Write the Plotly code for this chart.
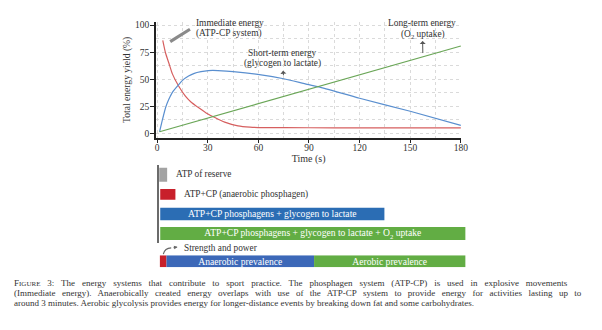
import plotly.graph_objects as go

W, H = 602, 330
FONT = "Liberation Serif"

# ---------------- data ----------------
t_imm = [3.3, 5, 6.9, 9, 12.7, 16.6, 20, 24.4, 29, 34.2, 40, 47.9, 55, 60, 90, 120, 150, 180]
y_imm = [86, 74, 65, 55, 43.8, 34.6, 29, 23.9, 19, 14.7, 10.5, 7, 5.8, 5.5, 5.3, 5.2, 5.2, 5.2]

t_short = [1.4, 3, 5, 6.9, 9, 12.7, 15, 18.6, 22, 26, 30.3, 33, 36, 45, 59.6, 75, 88.9, 95.8, 120, 150, 180]
y_short = [1.6, 12, 24, 31.5, 38, 45, 49, 53, 55.5, 57, 58, 58.2, 58, 57, 54.5, 50.5, 45.3, 43, 32.5, 20.5, 7.5]

t_long = [1.4, 180]
y_long = [1.6, 80.7]

x_ticks = [0, 30, 60, 90, 120, 150, 180]
y_ticks = [0, 25, 50, 75, 100]

bar_rows = ["ATP of reserve", "ATP+CP (anaerobic phosphagen)",
            "ATP+CP phosphagens + glycogen to lactate",
            "ATP+CP phosphagens + glycogen to lactate + O<sub>2</sub> uptake"]
bar_start = [1.2, 1.8, 1.8, 1.8]
bar_end = [5.9, 10.8, 134.7, 182.7]
bar_colors = ["#a3a3a3", "#c8202b", "#2b6db4", "#62ad44"]
bar_inside = [False, False, True, True]

prev_labels = ["", "Anaerobic prevalence", "Aerobic prevalence"]
prev_start = [1.6, 5.5, 93.0]
prev_end = [5.5, 93.0, 182.7]
prev_colors = ["#c8202b", "#3c68b8", "#62ad44"]

# ---------------- helpers (pixel -> paper) ----------------
def px(x):
    return x / W

def py(y):
    return 1 - y / H

fig = go.Figure()

# main curves
fig.add_trace(go.Scatter(x=t_imm, y=y_imm, mode="lines", line=dict(color="#d65f5f", width=1.2, shape="spline", smoothing=0.6),
                         xaxis="x", yaxis="y", hoverinfo="skip"))
fig.add_trace(go.Scatter(x=t_short, y=y_short, mode="lines", line=dict(color="#5a8fcf", width=1.2, shape="spline", smoothing=0.6),
                         xaxis="x", yaxis="y", hoverinfo="skip"))
fig.add_trace(go.Scatter(x=t_long, y=y_long, mode="lines", line=dict(color="#6aa657", width=1.2),
                         xaxis="x", yaxis="y", hoverinfo="skip"))

# bar rows (labelled inside / labelled outside via annotations)
widths = [0.72, 0.56, 0.64, 0.66]
BAR_TXT = dict(family=FONT, size=9.6, color="white")
for flag in (False, True):
    idx = [i for i in range(len(bar_rows)) if bar_inside[i] == flag]
    kw = dict(text=[bar_rows[i] for i in idx], textposition="inside", insidetextanchor="middle",
              constraintext="none", textfont=BAR_TXT, insidetextfont=BAR_TXT) if flag else dict(textposition="none")
    fig.add_trace(go.Bar(
        y=[bar_rows[i] for i in idx], x=[bar_end[i] - bar_start[i] for i in idx],
        base=[bar_start[i] for i in idx], orientation="h",
        marker=dict(color=[bar_colors[i] for i in idx], line=dict(width=0)),
        width=[widths[i] for i in idx], xaxis="x2", yaxis="y2", hoverinfo="skip", **kw))

# prevalence bar
for lab, s, e, c in zip(prev_labels, prev_start, prev_end, prev_colors):
    kw = dict(text=[lab], textposition="inside", insidetextanchor="middle", constraintext="none",
              textfont=BAR_TXT, insidetextfont=BAR_TXT) if lab else dict(textposition="none")
    fig.add_trace(go.Bar(
        y=["prevalence"], x=[e - s], base=[s], orientation="h",
        marker=dict(color=c, line=dict(width=0)), width=1,
        xaxis="x3", yaxis="y3", hoverinfo="skip", **kw))

# ---------------- axes ----------------
x0_px, x180_px = 158.3, 466.0
k = (x180_px - x0_px) / 180.0
def tpx(t):
    return x0_px + t * k

xr = [-0.8, 180.4]
y0_px, y100_px = 132.7, 23.3
ky = (y0_px - y100_px) / 100.0
yr = [-3.7, 102.7]

GRID = "#dadada"
TICKF = dict(family=FONT, size=9.5, color="#333")
fig.update_layout(
    xaxis=dict(domain=[px(tpx(xr[0])), px(tpx(xr[1]))], range=xr, anchor="y",
               tickvals=x_ticks, ticktext=[str(v) for v in x_ticks],
               ticks="outside", ticklen=4, tickwidth=1.2, tickcolor="#222", ticklabelstandoff=-4,
               showline=True, linecolor="#222", linewidth=1.6,
               showgrid=True, gridcolor=GRID, griddash="dot", gridwidth=1,
               minor=dict(dtick=15, tick0=0, showgrid=True, gridcolor=GRID, griddash="dot", gridwidth=1),
               tickfont=TICKF, zeroline=False,
               title=dict(text="Time (s)", font=dict(family=FONT, size=10, color="#333"), standoff=0)),
    yaxis=dict(domain=[py(y0_px + yr[0] * -ky), py(y0_px - yr[1] * ky)], range=yr, anchor="x",
               tickvals=y_ticks, ticktext=[str(v) for v in y_ticks],
               ticks="outside", ticklen=4, tickwidth=1.2, tickcolor="#222", ticklabelstandoff=-1,
               showline=True, linecolor="#222", linewidth=1.6,
               showgrid=True, gridcolor=GRID, griddash="dot", gridwidth=1,
               minor=dict(dtick=12.5, tick0=0, showgrid=True, gridcolor=GRID, griddash="dot", gridwidth=1),
               tickfont=TICKF, zeroline=False,
               title=dict(text="Total energy yield (%)", font=dict(family=FONT, size=9.6, color="#333"), standoff=3)),
    xaxis2=dict(domain=[px(tpx(1.0)), px(tpx(184))], range=[1.0, 184], anchor="y2",
                visible=False, fixedrange=True),
    yaxis2=dict(domain=[py(243.5), py(164.5)], range=[3.5, -0.5], anchor="x2",
                type="category", categoryorder="array", categoryarray=bar_rows,
                showline=True, linecolor="#6b6b6b", linewidth=2, showticklabels=False,
                ticks="", showgrid=False, zeroline=False),
    xaxis3=dict(domain=[px(tpx(1.0)), px(tpx(184))], range=[1.0, 184], anchor="y3",
                visible=False),
    yaxis3=dict(domain=[py(267.7), py(255.6)], range=[-0.5, 0.5], anchor="x3",
                visible=False, type="category"),
    barmode="overlay",
    showlegend=False,
    width=W, height=H,
    margin=dict(l=0, r=0, t=0, b=0),
    paper_bgcolor="white", plot_bgcolor="white",
    font=dict(family=FONT, color="#333"),
)

ann = []
def text_ann(x, y, text, size=9.4, xanchor="left", color="#333"):
    ann.append(dict(x=px(x), y=py(y), xref="paper", yref="paper", text=text, showarrow=False,
                    xanchor=xanchor, yanchor="middle", font=dict(family=FONT, size=size, color=color)))

def arrow_text(tip_x, tip_y, text_x, text_y, text, size=9.4, w=1.0, color="#555"):
    """Text at (text_x, text_y); an arrow runs from (tip_x, tip_y) toward the text with its head at the text."""
    ann.append(dict(x=px(tip_x), y=py(tip_y), ax=text_x - tip_x, ay=text_y - tip_y,
                    xref="paper", yref="paper", axref="pixel", ayref="pixel",
                    text=text, showarrow=True, arrowside="start", arrowhead=2, arrowsize=0.6,
                    arrowwidth=w, arrowcolor=color, startstandoff=0, standoff=0,
                    font=dict(family=FONT, size=size, color="#333")))

# curve annotations
text_ann(195.5, 21.5, "Immediate energy")
text_ann(195.5, 32.2, "(ATP-CP system)")
text_ann(285, 51.8, "Short-term energy", xanchor="center")
arrow_text(286.3, 74.0, 285.3, 62.5, "(glycogen to lactate)")
text_ann(427, 21.5, "Long-term energy", xanchor="center")
arrow_text(427.5, 51.5, 427.2, 32.5, "(O<sub>2</sub> uptake)")

# bar labels
text_ann(175, 173.5, "ATP of reserve", size=9.3)
text_ann(183, 194.3, "ATP+CP (anaerobic phosphagen)", size=9.3)
text_ann(183, 248.5, "Strength and power", size=9.3)
# small curved-looking pointer toward "Strength and power"
ann.append(dict(x=px(179), y=py(247.3), ax=-7, ay=1, xref="paper", yref="paper",
                axref="pixel", ayref="pixel", text=" ", showarrow=True, arrowhead=2,
                arrowsize=0.6, arrowwidth=1.2, arrowcolor="#666"))
fig.add_shape(type="path", xref="paper", yref="paper",
              path=f"M {px(164.5)} {py(254.5)} Q {px(166)} {py(248.5)} {px(172.5)} {py(248.2)}",
              line=dict(color="#666", width=1.2))

# caption (first two lines justified through word spacing)
cap = [
    "F<span style='font-size:7px'>IGURE</span> 3: The energy systems that contribute to sport practice. The phosphagen system (ATP-CP) is used in explosive movements",
    "(Immediate energy). Anaerobically created energy overlaps with use of the ATP-CP system to provide energy for activities lasting up to",
    "around 3 minutes. Aerobic glycolysis provides energy for longer-distance events by breaking down fat and some carbohydrates.",
]
spacing = [4.65, 4.2, 0]
for i, line in enumerate(cap):
    txt = f"<span style='word-spacing:{spacing[i]}px'>{line}</span>" if spacing[i] else line
    text_ann(11, 283.5 + i * 10.2, txt, size=9, color="#333")

fig.update_layout(annotations=ann)

# thick gray pointer line near the immediate-energy label
fig.add_shape(type="line", xref="paper", yref="paper", x0=px(171.5), y0=py(40), x1=px(191.5), y1=py(27.5),
              line=dict(color="#8a8a8a", width=3.2))

fig.write_html("out.html")
